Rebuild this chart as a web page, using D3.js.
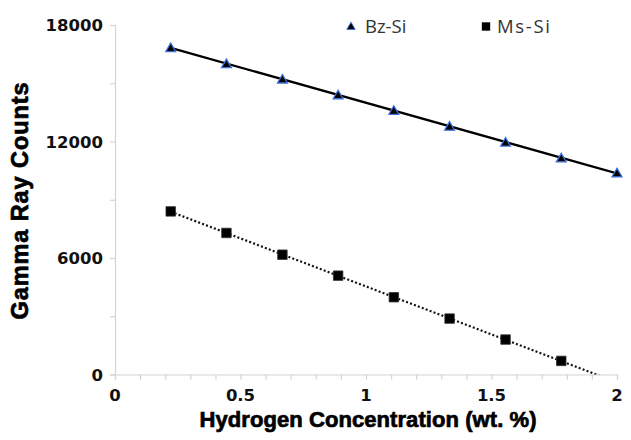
<!DOCTYPE html>
<html>
<head>
<meta charset="utf-8">
<script src="https://cdn.jsdelivr.net/npm/d3@7"></script>
<style>
  body { margin: 0; background: #fff; }
  svg { display: block; }
</style>
</head>
<body>
<div id="chart"></div>
<script>
// values
var hydrogen = [0.222, 0.444, 0.667, 0.889, 1.111, 1.333, 1.556, 1.778, 2.0];
var bzSi = [16830, 16000, 15210, 14400, 13600, 12780, 11960, 11150, 10380];
var msSi = [8400, 7290, 6170, 5090, 3980, 2880, 1800, 700];
var xTicks = [0, 0.5, 1, 1.5, 2];
var yTicks = [0, 6000, 12000, 18000];
var seriesNames = ['Bz-Si', 'Ms-Si'];

var W = 631, H = 440;

var svg = d3.select('#chart').append('svg')
    .attr('width', W)
    .attr('height', H);

var x = d3.scaleLinear().domain([0, 2]).range([115, 617]);
var y = d3.scaleLinear().domain([0, 18000]).range([374.5, 25]);

var axisColor = '#d4d4d4';

// axes
var xAxis = svg.append('g')
    .attr('transform', 'translate(0,' + y(0) + ')')
    .call(d3.axisBottom(x).tickValues(d3.range(0, 2.05, 0.1)).tickSize(5).tickFormat(''));
var yAxis = svg.append('g')
    .attr('transform', 'translate(' + x(0) + ',0)')
    .call(d3.axisLeft(y).tickValues(d3.range(0, 18001, 3000)).tickSize(5).tickFormat(''));
[xAxis, yAxis].forEach(function(a) {
    a.selectAll('path, line').attr('stroke', axisColor).attr('stroke-width', 1.2);
});

var tickFont = "'DejaVu Sans', sans-serif";
svg.selectAll('text.xtick').data(xTicks).enter()
    .append('text')
        .attr('class', 'xtick')
        .attr('x', function(d) { return x(d) })
        .attr('y', 401)
        .attr('text-anchor', 'middle')
        .style('font', 'bold 16.5px ' + tickFont)
        .attr('fill', '#111')
        .text(function(d) { return d });
svg.selectAll('text.ytick').data(yTicks).enter()
    .append('text')
        .attr('class', 'ytick')
        .attr('x', 103)
        .attr('y', function(d) { return y(d) + 6 })
        .attr('text-anchor', 'end')
        .style('font', 'bold 16.5px ' + tickFont)
        .attr('fill', '#111')
        .text(function(d) { return d });

// axis titles
var titleFont = "'Liberation Sans', Arial, sans-serif";
svg.append('text')
    .attr('x', 368)
    .attr('y', 427)
    .attr('text-anchor', 'middle')
    .attr('textLength', 337)
    .style('font', 'bold 22px ' + titleFont)
    .attr('fill', '#000').attr('stroke', '#000').attr('stroke-width', 0.7)
    .text('Hydrogen Concentration (wt. %)');
svg.append('text')
    .attr('transform', 'translate(28,201) rotate(-90)')
    .attr('text-anchor', 'middle')
    .attr('textLength', 237)
    .style('font', 'bold 23.5px ' + titleFont)
    .attr('fill', '#000').attr('stroke', '#000').attr('stroke-width', 0.7)
    .text('Gamma Ray Counts');

// linear trend lines, extended to x = 2 and clipped to the plot
var fit = function(xs, ys) {
    var mx = d3.mean(xs), my = d3.mean(ys);
    var sxy = d3.sum(xs, function(v, i) { return (v - mx) * (ys[i] - my) });
    var sxx = d3.sum(xs, function(v) { return (v - mx) * (v - mx) });
    var b = sxy / sxx;
    return function(v) { return my + b * (v - mx) };
};

svg.append('clipPath').attr('id', 'plot')
    .append('rect')
        .attr('x', x(0)).attr('y', y(18000))
        .attr('width', x(2) - x(0)).attr('height', y(0) - y(18000));

var msX = hydrogen.slice(0, msSi.length);
var fBz = fit(hydrogen, bzSi);
var fMs = fit(msX, msSi);
var line = d3.line().x(function(d) { return x(d[0]) }).y(function(d) { return y(d[1]) });

svg.append('path')
    .attr('d', line([[hydrogen[0], fBz(hydrogen[0])], [2, fBz(2)]]))
    .attr('fill', 'none').attr('stroke', '#000').attr('stroke-width', 2.3)
    .attr('clip-path', 'url(#plot)');
svg.append('path')
    .attr('d', line([[msX[0], fMs(msX[0])], [2, fMs(2)]]))
    .attr('fill', 'none').attr('stroke', '#111').attr('stroke-width', 2.2)
    .attr('stroke-dasharray', '2,2.2')
    .attr('clip-path', 'url(#plot)');

// markers
var tri = d3.symbol().type(d3.symbolTriangle).size(42);
var sq = d3.symbol().type(d3.symbolSquare).size(90);

svg.selectAll('path.ms').data(msSi).enter()
    .append('path')
        .attr('class', 'ms')
        .attr('d', sq)
        .attr('transform', function(d, i) { return 'translate(' + x(msX[i]) + ',' + y(d) + ')' })
        .attr('fill', '#000').attr('stroke', '#333').attr('stroke-width', 0.8);
svg.selectAll('path.bz').data(bzSi).enter()
    .append('path')
        .attr('class', 'bz')
        .attr('d', tri)
        .attr('transform', function(d, i) { return 'translate(' + x(hydrogen[i]) + ',' + (y(d) + 1) + ')' })
        .attr('fill', '#000').attr('stroke', '#3a6fd8').attr('stroke-width', 1.3);

// legend
var legend = svg.append('g');
legend.append('path')
    .attr('d', d3.symbol().type(d3.symbolTriangle).size(30))
    .attr('transform', 'translate(351,27)')
    .attr('fill', '#000').attr('stroke', '#3a6fd8').attr('stroke-width', 1);
legend.append('path')
    .attr('d', d3.symbol().type(d3.symbolSquare).size(70))
    .attr('transform', 'translate(486,26.5)')
    .attr('fill', '#000');
legend.selectAll('text').data(seriesNames).enter()
    .append('text')
        .attr('x', function(d, i) { return i ? 497 : 365 })
        .attr('y', 33)
        .attr('textLength', function(d, i) { return i ? 53 : null })
        .style('font', "18.5px 'Open Sans', sans-serif")
        .attr('fill', '#333')
        .text(function(d) { return d });
</script>
</body>
</html>
